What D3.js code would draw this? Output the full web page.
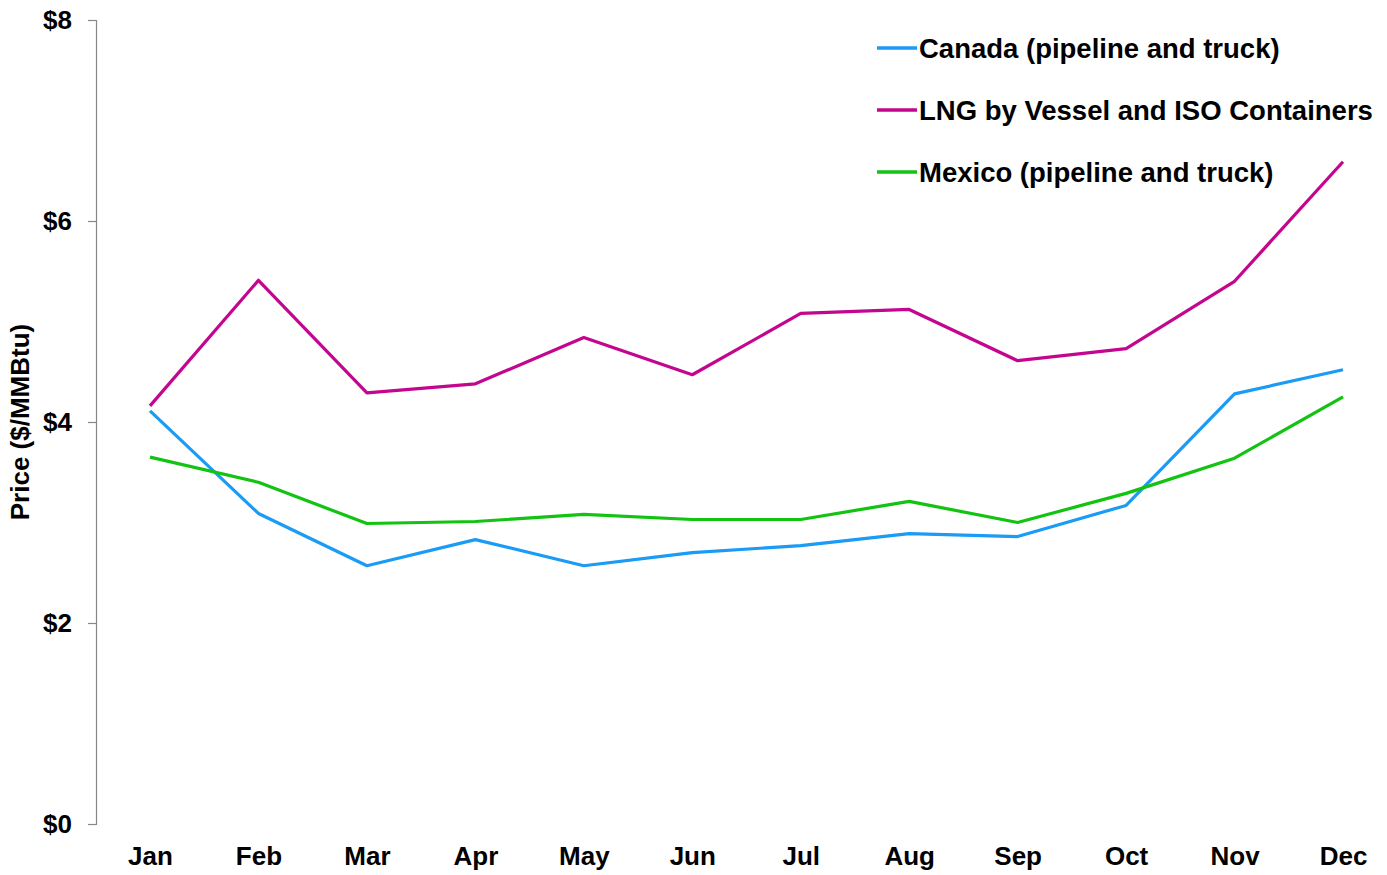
<!DOCTYPE html>
<html>
<head>
<meta charset="utf-8">
<script src="https://cdn.jsdelivr.net/npm/d3@7"></script>
<style>
  html, body { margin: 0; padding: 0; background: #fff; }
  svg { display: block; font-family: "Liberation Sans", Arial, sans-serif; }
</style>
</head>
<body>
<svg id="chart" width="1387" height="875"></svg>
<script>
const months = ["Jan","Feb","Mar","Apr","May","Jun","Jul","Aug","Sep","Oct","Nov","Dec"];
const canada = [4.11, 3.09, 2.57, 2.83, 2.57, 2.70, 2.77, 2.89, 2.86, 3.17, 4.28, 4.52];
const lng    = [4.16, 5.41, 4.29, 4.38, 4.84, 4.47, 5.08, 5.12, 4.61, 4.73, 5.40, 6.59];
const mexico = [3.65, 3.40, 2.99, 3.01, 3.08, 3.03, 3.03, 3.21, 3.00, 3.29, 3.64, 4.25];
const yTicks = [0, 2, 4, 6, 8];
const seriesNames = ["Canada (pipeline and truck)", "LNG by Vessel and ISO Containers", "Mexico (pipeline and truck)"];
const seriesColors = ["#1a9bf5", "#c4068f", "#12c312"];
const seriesValues = [canada, lng, mexico];

const svg = d3.select("#chart");
const x = d3.scalePoint().domain(months).range([150, 1343]);
const y = d3.scaleLinear().domain([0, 8]).range([824, 20]);

// Y axis
const yAxis = svg.append("g").attr("transform", "translate(96,0)")
  .call(d3.axisLeft(y).tickValues(yTicks).tickSize(8).tickPadding(16).tickFormat(d => "$" + d));
yAxis.select(".domain").attr("stroke", "#888").attr("stroke-width", 1.2);
yAxis.selectAll(".tick line").attr("stroke", "#888").attr("stroke-width", 1.2);
yAxis.selectAll(".tick text").attr("font-size", 26).attr("font-weight", "bold").attr("fill", "#000")
  .attr("font-family", "Liberation Sans, Arial, sans-serif");

// X labels
const xAxis = svg.append("g").attr("transform", "translate(0,824)")
  .call(d3.axisBottom(x).tickSize(0).tickPadding(23));
xAxis.select(".domain").remove();
xAxis.selectAll(".tick text").attr("font-size", 26).attr("font-weight", "bold").attr("fill", "#000")
  .attr("font-family", "Liberation Sans, Arial, sans-serif");

// Y title
svg.append("text")
  .attr("transform", "translate(29,422) rotate(-90)")
  .attr("text-anchor", "middle")
  .attr("font-size", 26).attr("font-weight", "bold")
  .text("Price ($/MMBtu)");

// Lines
const line = d3.line().x((d, i) => x(months[i])).y(d => y(d));
seriesValues.forEach((vals, k) => {
  svg.append("path").datum(vals)
    .attr("fill", "none")
    .attr("stroke", seriesColors[k])
    .attr("stroke-width", 3.2)
    .attr("stroke-linejoin", "round")
    .attr("d", line);
});

// Legend
const legend = svg.append("g");
seriesNames.forEach((name, k) => {
  const ly = 48 + k * 62;
  legend.append("line").attr("x1", 877).attr("x2", 917).attr("y1", ly).attr("y2", ly)
    .attr("stroke", seriesColors[k]).attr("stroke-width", 3.5);
  legend.append("text").attr("x", 919).attr("y", ly).attr("dy", "0.36em")
    .attr("font-size", 27.5).attr("font-weight", "bold").attr("fill", "#000")
    .text(name);
});
</script>
</body>
</html>
